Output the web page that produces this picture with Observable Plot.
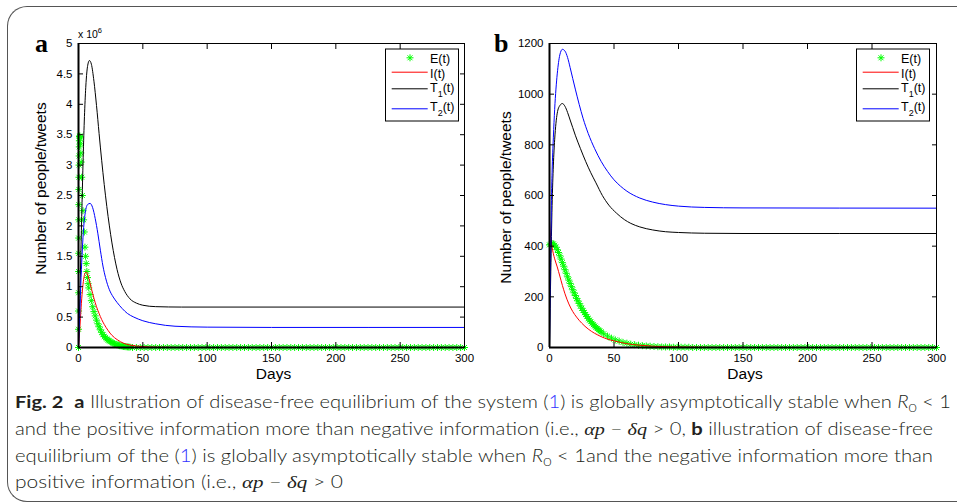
<!DOCTYPE html>
<html><head><meta charset="utf-8">
<script src="https://cdn.jsdelivr.net/npm/d3@7"></script>
<script src="https://cdn.jsdelivr.net/npm/@observablehq/plot@0.6"></script>
<style>
html,body{margin:0;padding:0;background:#fff}
body{width:957px;height:503px;overflow:hidden;position:relative;font-family:"Liberation Sans",Arial,sans-serif}
#box{position:absolute;left:7px;top:6px;width:970px;height:494px;border:1px solid #555;border-right:none;border-radius:20px 0 0 20px}
.panel{position:absolute;top:0}
#overlay{position:absolute;left:0;top:0}
</style></head>
<body>
<div id="box"></div>
<div id="pa" class="panel" style="left:0"></div>
<div id="pb" class="panel" style="left:478px"></div>
<svg id="overlay" width="957" height="503"></svg>
<script>
// ---------- data (panel a values in units of 10^6) ----------
const xTicks = [0, 50, 100, 150, 200, 250, 300];
const aYTicks = [0, 0.5, 1, 1.5, 2, 2.5, 3, 3.5, 4, 4.5, 5];
const bYTicks = [0, 200, 400, 600, 800, 1000, 1200];

const aEDays = [0,0.02,0.05,0.08,0.11,0.14,0.17,0.2,0.25,0.3,0.35,0.4,0.5,0.6,0.7,0.85,1,1.2,1.5,1.8,2.1,2.5,3,3.5,4,4.5,5,5.5,6,6.5,7,7.5,8,9,10,11,12,13,14,15,16,17,18,19,20,21,22,23,24,25,26,27,28,29,30,31,32,33,34,35,36,37,38,39,40];
const aE = [0,0.3,0.6,0.9,1.25,1.55,1.8,2.1,2.35,2.6,2.8,3.0,3.15,3.3,3.4,3.47,3.48,3.45,3.35,3.2,3.05,2.8,2.5,2.25,2.1,1.9,1.65,1.5,1.38,1.25,1.15,1.05,0.98,0.87,0.77,0.67,0.59,0.52,0.45,0.39,0.34,0.29,0.25,0.21,0.18,0.16,0.14,0.12,0.11,0.095,0.08,0.07,0.06,0.05,0.045,0.04,0.03,0.027,0.022,0.018,0.015,0.012,0.01,0.008,0.006];

const eTailDays = [42,45,48,51,54,57,60,63,66,69,72,75,78,81,84,87,90,93,96,99,102,105,108,111,114,117,120,123,126,129,132,135,138,141,144,147,150,153,156,159,162,165,168,171,174,177,180,183,186,189,192,195,198,201,204,207,210,213,216,219,222,225,228,231,234,237,240,243,246,249,252,255,258,261,264,267,270,273,276,279,282,285,288,291,294,297,300];
const aETail = [0,0,0,0,0,0,0,0,0,0,0,0,0,0,0,0,0,0,0,0,0,0,0,0,0,0,0,0,0,0,0,0,0,0,0,0,0,0,0,0,0,0,0,0,0,0,0,0,0,0,0,0,0,0,0,0,0,0,0,0,0,0,0,0,0,0,0,0,0,0,0,0,0,0,0,0,0,0,0,0,0,0,0,0,0,0,0];

const aIDays = [0,1,2,3,4,5,6,7,8,10,12,14,16,18,20,23,26,30,35,40,50,60,80,300];
const aI = [0,0.3,0.65,0.93,1.12,1.22,1.24,1.21,1.14,0.97,0.81,0.67,0.56,0.46,0.38,0.28,0.2,0.13,0.07,0.04,0.015,0.005,0,0];

const aT1Days = [0,1,2,3,4,5,6,7,8.5,10,12,14,16,18,20,22,24,26,28,30,33,36,40,45,50,60,80,300];
const aT1 = [0,0.8,1.7,2.6,3.4,4.0,4.4,4.62,4.72,4.66,4.38,3.98,3.52,3.08,2.68,2.32,2.0,1.72,1.48,1.28,1.06,0.92,0.8,0.73,0.695,0.672,0.665,0.665];

const aT2Days = [0,1,2,3,4,5,6,7,9,11,13,15,17,19,21,24,27,30,34,38,43,50,60,75,100,150,300];
const aT2 = [0,0.55,1.15,1.62,1.97,2.18,2.3,2.35,2.37,2.3,2.12,1.88,1.6,1.34,1.15,0.95,0.83,0.74,0.64,0.56,0.5,0.44,0.39,0.35,0.335,0.33,0.33];

const bEDays = [0,1,2,3,4,5,6,7,8,9,10,11,12,13,14,15,16,17,18,19,20,21,22,23,24,25,26,27,28,29,30,31,32,33,34,35,36,37,38,39,40];
const bE = [405,408,410,409,404,396,386,375,362,349,335,321,307,293,279,266,253,240,228,216,205,194,184,174,164,155,146,138,130,122,115,108,102,96,90,85,80,75,70,66,62];
const bETail = [54,45,37,30,25,20,17,13,11,9,7,6,5,4,3,2,2,2,1,1,1,1,1,0,0,0,0,0,0,0,0,0,0,0,0,0,0,0,0,0,0,0,0,0,0,0,0,0,0,0,0,0,0,0,0,0,0,0,0,0,0,0,0,0,0,0,0,0,0,0,0,0,0,0,0,0,0,0,0,0,0,0,0,0,0,0,0];

const bIDays = [0,0.5,1,2,3,4,6,8,10,12,15,18,21,25,30,35,40,45,50,55,60,70,80,100,150,300];
const bI = [500,455,430,395,370,350,318,282,245,212,172,142,120,96,73,56,43,33,26,20,15,9,5,2,0,0];

const bT1Days = [0,1,2,3,4,5,6,8,10,12,14,16,18,20,24,28,32,36,41,46,52,58,63,70,80,90,100,120,150,300];
const bT1 = [0,300,560,720,820,885,925,955,963,952,928,898,868,838,785,735,690,650,600,562,530,505,490,476,464,457,454,451,450,450];

const bT2Days = [0,0.5,1,1.5,2,3,4,5,6,7,8,10,12,14,16,18,20,23,26,30,35,40,45,50,55,60,70,80,90,100,120,150,300];
const bT2 = [0,200,400,580,690,830,940,1020,1080,1125,1155,1177,1170,1145,1105,1062,1020,960,905,845,785,735,695,662,637,617,590,574,564,558,553,551,550];

const colors = {E: "#00ff00", I: "#ff0000", T1: "#000000", T2: "#0000ff"};

// ---------- helpers ----------
const zip = (ts, vs) => ts.map((t, i) => ({t, v: vs[i]}));
const asterisk8 = {
  draw(ctx, size) {
    const r = Math.sqrt(size / Math.PI), d = r * Math.SQRT1_2;
    ctx.moveTo(-r, 0); ctx.lineTo(r, 0);
    ctx.moveTo(0, -r); ctx.lineTo(0, r);
    ctx.moveTo(-d, -d); ctx.lineTo(d, d);
    ctx.moveTo(-d, d); ctx.lineTo(d, -d);
  }
};

function panel({width, ml, mr, yMax, yTicks, E, I, T1, T2, ylabDx, ylabDy}) {
  return Plot.plot({
    width, height: 380,
    marginLeft: ml, marginRight: mr, marginTop: 43, marginBottom: 33,
    x: {domain: [0, 300], label: null},
    y: {domain: [0, yMax], label: null},
    style: {fontFamily: "'Liberation Sans', Arial, sans-serif", fontSize: "11.5px", background: "transparent", overflow: "visible", color: "#000"},
    marks: [
      Plot.dot(E, {x: "t", y: "v", r: 3.5, symbol: asterisk8, stroke: colors.E, strokeWidth: 1, fill: "none"}),
      Plot.line(I, {x: "t", y: "v", stroke: colors.I, strokeWidth: 1, curve: "monotone-x"}),
      Plot.line(T1, {x: "t", y: "v", stroke: colors.T1, strokeWidth: 1, curve: "monotone-x"}),
      Plot.line(T2, {x: "t", y: "v", stroke: colors.T2, strokeWidth: 1, curve: "monotone-x"}),
      Plot.frame({stroke: "#000", strokeWidth: 1}),
      Plot.ruleX([0], {stroke: "#000", strokeWidth: 2}),
      Plot.ruleY([0], {stroke: "#000", strokeWidth: 2}),
      Plot.axisX({ticks: xTicks, tickSize: -5, tickPadding: 11, label: null, tickFormat: d => String(d)}),
      Plot.axisX({anchor: "top", ticks: xTicks, tickSize: -5, label: null, tickFormat: () => ""}),
      Plot.axisY({ticks: yTicks, tickSize: -5, tickPadding: 11, label: null, tickFormat: d => String(d)}),
      Plot.axisY({anchor: "right", ticks: yTicks, tickSize: -5, label: null, tickFormat: () => ""}),
      Plot.text(["Days"], {frameAnchor: "bottom", dx: 2, dy: 31, lineAnchor: "bottom", fontSize: 15.5}),
      Plot.text(["Number of people/tweets"], {frameAnchor: "left", dx: ylabDx, dy: ylabDy, rotate: -90, textAnchor: "middle", lineAnchor: "bottom", fontSize: 15.5})
    ]
  });
}

document.getElementById("pa").appendChild(panel({
  width: 478, ml: 78, mr: 14, yMax: 5, yTicks: aYTicks, ylabDx: -33, ylabDy: -7,
  E: zip(aEDays, aE).concat(zip(eTailDays, aETail)),
  I: zip(aIDays, aI), T1: zip(aT1Days, aT1), T2: zip(aT2Days, aT2)
}));
document.getElementById("pb").appendChild(panel({
  width: 479, ml: 71, mr: 21, yMax: 1200, yTicks: bYTicks, ylabDx: -39, ylabDy: 2,
  E: zip(bEDays, bE).concat(zip(eTailDays, bETail)),
  I: zip(bIDays, bI), T1: zip(bT1Days, bT1), T2: zip(bT2Days, bT2)
}));

// ---------- overlay: panel letters, exponent, legends, caption ----------
const NS = "http://www.w3.org/2000/svg";
const ov = document.getElementById("overlay");
function el(tag, attrs, parent = ov, html) {
  const e = document.createElementNS(NS, tag);
  for (const k in attrs) e.setAttribute(k, attrs[k]);
  if (html != null) e.innerHTML = html;
  parent.appendChild(e);
  return e;
}
const serif = "'Liberation Serif','DejaVu Serif',serif";
const sans = "'Liberation Sans',Arial,sans-serif";
el("text", {x: 35, y: 51.5, "font-family": serif, "font-weight": "bold", "font-size": 26}, ov, "a");
el("text", {x: 494, y: 51.5, "font-family": serif, "font-weight": "bold", "font-size": 26}, ov, "b");
el("text", {x: 78, y: 37.5, "font-family": sans, "font-size": 10.5}, ov, 'x 10<tspan dy="-5" font-size="7.5">6</tspan>');

function legend(x0, y0) {
  const g = el("g", {transform: `translate(${x0},${y0})`, "font-family": sans, "font-size": 12.5});
  el("rect", {x: 0.5, y: 0.5, width: 73, height: 72, fill: "#fff", stroke: "#000", "stroke-width": 1}, g);
  const r = 3.5, d = r * Math.SQRT1_2, cx = 25, cy = 9.3;
  el("path", {d: `M${cx-r},${cy}L${cx+r},${cy}M${cx},${cy-r}L${cx},${cy+r}M${cx-d},${cy-d}L${cx+d},${cy+d}M${cx-d},${cy+d}L${cx+d},${cy-d}`, stroke: colors.E, fill: "none"}, g);
  el("text", {x: 45, y: 14.3}, g, "E(t)");
  el("line", {x1: 6.7, x2: 42.7, y1: 23.7, y2: 23.7, stroke: colors.I}, g);
  el("text", {x: 45, y: 29.3}, g, "I(t)");
  el("line", {x1: 6.7, x2: 42.7, y1: 40.3, y2: 40.3, stroke: colors.T1}, g);
  el("text", {x: 45, y: 43.7}, g, 'T<tspan dy="4.5" font-size="9">1</tspan><tspan dy="-4.5">(t)</tspan>');
  el("line", {x1: 6.7, x2: 42.7, y1: 60.3, y2: 60.3, stroke: colors.T2}, g);
  el("text", {x: 45, y: 62.7}, g, 'T<tspan dy="4.5" font-size="9">2</tspan><tspan dy="-4.5">(t)</tspan>');
}
legend(385, 48.5);
legend(856, 48.5);

// caption
const capFont = "Lato,'Open Sans',sans-serif";
const mi = '<tspan font-family="' + serif + '" font-style="italic" font-weight="normal">';
const capLines = [
  {y: 408, w: 936, html: '<tspan font-weight="bold">Fig. 2</tspan>  <tspan font-weight="bold">a</tspan> Illustration of disease-free equilibrium of the system (<tspan fill="#3333ff">1</tspan>) is globally asymptotically stable when <tspan font-style="italic">R</tspan><tspan dy="4" font-size="12">0</tspan><tspan dy="-4"> &lt; 1</tspan>'},
  {y: 435, w: 918, html: 'and the positive information more than negative information (i.e., ' + mi + 'αp</tspan> − ' + mi + 'δq</tspan> &gt; 0, <tspan font-weight="bold">b</tspan> illustration of disease-free'},
  {y: 461.5, w: 918, html: 'equilibrium of the (<tspan fill="#3333ff">1</tspan>) is globally asymptotically stable when <tspan font-style="italic">R</tspan><tspan dy="4" font-size="12">0</tspan><tspan dy="-4"> &lt; 1and the negative information more than</tspan>'},
  {y: 488, w: 328, html: 'positive information (i.e., ' + mi + 'αp</tspan> − ' + mi + 'δq</tspan> &gt; 0'}
];
for (const L of capLines) {
  const t = el("text", {x: 15, y: L.y, "font-family": capFont, "font-size": 17, "font-weight": 300, fill: "#231f20", style: "white-space:pre"}, ov, L.html);
  const w = t.getComputedTextLength();
  if (w > 0) { t.setAttribute("textLength", L.w); t.setAttribute("lengthAdjust", "spacingAndGlyphs"); }
}
</script>
</body></html>
